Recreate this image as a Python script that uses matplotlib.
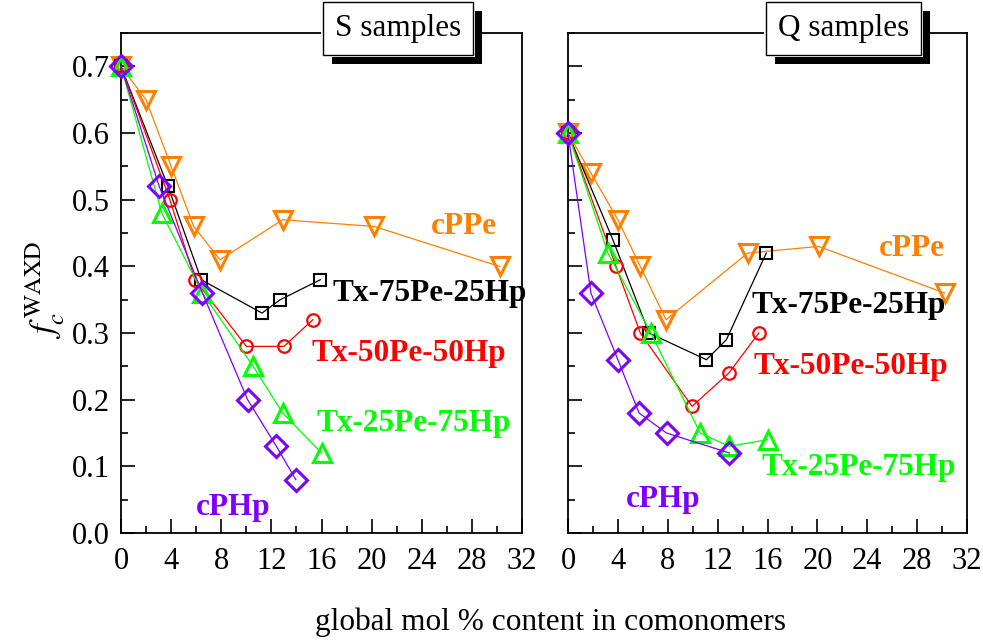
import numpy as np
import matplotlib
matplotlib.use("Agg")
import matplotlib.pyplot as plt
from matplotlib.ticker import MultipleLocator, FormatStrFormatter
from matplotlib import transforms
from matplotlib.patches import Rectangle

plt.rcParams['font.family'] = ['Liberation Serif', 'DejaVu Serif']
plt.rcParams['mathtext.fontset'] = 'stix'

# ---- S samples (left panel) ----
s_cppe_x = [0, 2, 4, 5.8, 7.9, 12.9, 20.2, 30.2]
s_cppe_y = [0.70, 0.65, 0.55, 0.46, 0.41, 0.47, 0.46, 0.40]
s_t75_x = [0, 3.75, 6.4, 11.25, 12.7, 15.9]
s_t75_y = [0.70, 0.52, 0.38, 0.33, 0.35, 0.38]
s_t50_x = [0, 3.9, 5.9, 10.0, 13.0, 15.3]
s_t50_y = [0.70, 0.50, 0.38, 0.28, 0.28, 0.32]
s_t25_x = [0, 3.25, 6.5, 10.55, 12.9, 16.0]
s_t25_y = [0.70, 0.48, 0.36, 0.25, 0.18, 0.12]
s_cphp_x = [0, 3.05, 6.5, 10.1, 12.4, 13.95]
s_cphp_y = [0.70, 0.52, 0.36, 0.20, 0.13, 0.08]

# ---- Q samples (right panel) ----
q_cppe_x = [0, 1.84, 4.0, 5.8, 7.86, 14.4, 20.1, 30.2]
q_cppe_y = [0.60, 0.54, 0.47, 0.40, 0.32, 0.42, 0.43, 0.36]
q_t75_x = [0, 3.6, 6.5, 11.1, 12.7, 15.9]
q_t75_y = [0.60, 0.44, 0.30, 0.26, 0.29, 0.42]
q_t50_x = [0, 3.85, 5.8, 9.95, 12.9, 15.3]
q_t50_y = [0.60, 0.40, 0.30, 0.19, 0.24, 0.30]
q_t25_x = [0, 3.2, 6.65, 10.6, 12.9, 16.0]
q_t25_y = [0.60, 0.42, 0.30, 0.15, 0.13, 0.14]
q_cphp_x = [0, 1.84, 4.0, 5.7, 7.9, 12.95]
q_cphp_y = [0.60, 0.36, 0.26, 0.18, 0.15, 0.12]

names = ['cPPe', 'Tx-75Pe-25Hp', 'Tx-50Pe-50Hp', 'Tx-25Pe-75Hp', 'cPHp']
colors = ['#FF8000', 'black', '#FF0000', '#00FF00', '#7F00FF']
markers = ['v', 's', 'o', '^', 'D']
msizes = [13, 8, 9, 13, 11]
mews = [2.2, 1.5, 1.6, 2.2, 2.2]

# label anchor positions (data coords, left edge)
s_lab = [(24.7, 0.46), (16.9, 0.36), (15.2, 0.27), (15.6, 0.164), (6.0, 0.038)]
q_lab = [(24.9, 0.427), (14.75, 0.341), (14.9, 0.25), (15.55, 0.099), (4.65, 0.05)]

fig = plt.figure(figsize=(9.83, 6.4), dpi=100)
ax1 = fig.add_axes([0.1231, 0.1672, 0.408, 0.781])
ax2 = fig.add_axes([0.5778, 0.1672, 0.406, 0.781])

panels = [
    (ax1, [(s_cppe_x, s_cppe_y), (s_t75_x, s_t75_y), (s_t50_x, s_t50_y),
           (s_t25_x, s_t25_y), (s_cphp_x, s_cphp_y)], s_lab, 'S samples'),
    (ax2, [(q_cppe_x, q_cppe_y), (q_t75_x, q_t75_y), (q_t50_x, q_t50_y),
           (q_t25_x, q_t25_y), (q_cphp_x, q_cphp_y)], q_lab, 'Q samples'),
]

title_texts = []
for ax, series, labs, title in panels:
    for i, (xs, ys) in enumerate(series):
        ax.plot(xs, ys, color=colors[i], lw=0.9, marker=markers[i],
                ms=msizes[i], mfc='none', mec=colors[i], mew=mews[i],
                clip_on=False, zorder=3)
    for i, (lx, ly) in enumerate(labs):
        ax.text(lx, ly, names[i], color=colors[i], fontsize=22.5,
                fontweight='bold', va='center', ha='left')
    ax.set_xlim(0, 32)
    ax.set_ylim(0, 0.75)
    ax.xaxis.set_major_locator(MultipleLocator(4))
    ax.xaxis.set_minor_locator(MultipleLocator(2))
    ax.yaxis.set_major_locator(MultipleLocator(0.1))
    ax.yaxis.set_minor_locator(MultipleLocator(0.05))
    ax.yaxis.set_major_formatter(FormatStrFormatter('%.1f'))
    ax.tick_params(which='both', direction='in', labelsize=22)
    ax.tick_params(which='major', length=10, width=1.2)
    ax.tick_params(which='minor', length=5, width=1.2)
    ax.tick_params(axis='x', pad=10)
    ax.tick_params(axis='y', pad=8)
    for sp in ax.spines.values():
        sp.set_linewidth(1.3)

    # title box (shadow added after layout is known)
    t = ax.text(0.69, 1.01, title, transform=ax.transAxes, fontsize=22.5,
                ha='center', va='center', color='black', clip_on=False, zorder=12,
                bbox=dict(boxstyle='square,pad=0.38', fc='white', ec='black', lw=1))
    title_texts.append((ax, t))

ax2.tick_params(axis='y', labelleft=False)

fig.text(0.046, 0.547, r'$f_c^{\,\mathrm{WAXD}}$', rotation=90, fontsize=25,
         ha='center', va='center')
fig.text(0.56, 0.028, 'global mol % content in comonomers', fontsize=22.5,
         ha='center', va='center')

# drop shadow behind each title box
fig.canvas.draw()
for ax, t in title_texts:
    bb = t.get_bbox_patch().get_window_extent()
    ax.add_patch(Rectangle((bb.x0 + 9, bb.y0 - 9), bb.width, bb.height,
                           transform=transforms.IdentityTransform(),
                           fc='black', ec='none', clip_on=False, zorder=10))
    ax.add_patch(Rectangle((bb.x0 - 2, bb.y0 - 2), bb.width + 4, bb.height + 4,
                           transform=transforms.IdentityTransform(),
                           fc='white', ec='none', clip_on=False, zorder=11))

fig.savefig('out.png', dpi=100)
